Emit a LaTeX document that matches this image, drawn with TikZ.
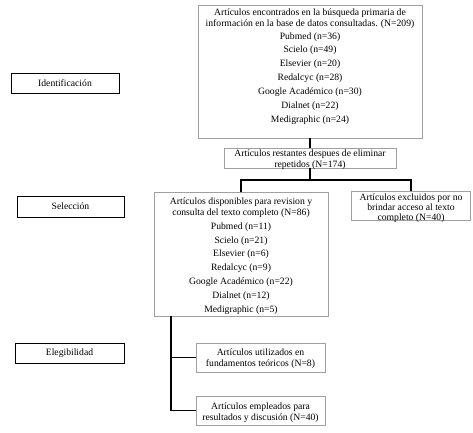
\documentclass[tikz,border=0pt]{standalone}
\usepackage{fontspec}
\setmainfont{Liberation Serif}
\definecolor{boxgray}{RGB}{160,160,160}
\begin{document}
\begin{tikzpicture}[x=1bp,y=-1bp,
  gbox/.style={draw=boxgray, line width=0.9bp, rectangle, inner sep=0pt},
  lbox/.style={draw=black, line width=0.9bp, rectangle, inner sep=0pt, font=\fontsize{9.7}{11.3}\selectfont},
  btext/.style={align=center, inner sep=0pt, anchor=north, font=\fontsize{9.7}{11.3}\selectfont},
  conn/.style={draw=black, line width=1.1bp}]
\useasboundingbox (0,0) rectangle (473,432);

% label boxes
\node[lbox, minimum width=108bp, minimum height=20bp] (ident) at (65,83) {Identificación};
\node[lbox, minimum width=107bp, minimum height=21bp] (sel) at (70.5,206.5) {Selección};
\node[lbox, minimum width=109bp, minimum height=20bp] (eleg) at (69.5,353) {Elegibilidad};

% main boxes
\node[gbox, minimum width=224bp, minimum height=133bp] (top) at (310,71.5) {};
\node[btext] (toptext) at (310,8.4) {Artículos encontrados en la búsqueda primaria de\\información en la base de datos consultadas. (N=209)\\[1.2bp]
Pubmed (n=36)\\[2.6bp] Scielo (n=49)\\[2.6bp] Elsevier (n=20)\\[2.6bp] Redalcyc (n=28)\\[2.6bp] Google Académico (n=30)\\[2.6bp] Dialnet (n=22)\\[2.6bp] Medigraphic (n=24)};

\node[gbox, minimum width=172bp, minimum height=20bp] (sec) at (310,158) {};
\node[btext] (sectext) at (310,149.7) {Artículos restantes despues de eliminar\\repetidos (N=174)};

\node[gbox, minimum width=174bp, minimum height=123.5bp] (disp) at (241,254.25) {};
\node[btext] (disptext) at (241,197.2) {Artículos disponibles para revision y\\consulta del texto completo (N=86)\\[2.6bp]
Pubmed (n=11)\\[2.6bp] Scielo (n=21)\\[2.6bp] Elsevier (n=6)\\[2.6bp] Redalcyc (n=9)\\[2.6bp] Google Académico (n=22)\\[2.6bp] Dialnet (n=12)\\[2.6bp] Medigraphic (n=5)};

\node[gbox, minimum width=119bp, minimum height=29bp] (excl) at (411,206) {};
\node[btext, font=\fontsize{9.7}{10}\selectfont] (excltext) at (411,193.4) {Artículos excluidos por no\\brindar acceso al texto\\completo (N=40)};

\node[gbox, minimum width=129bp, minimum height=29bp] (util) at (260.5,357.5) {};
\node[btext] (utiltext) at (260.5,348.7) {Artículos utilizados en\\fundamentos teóricos (N=8)};

\node[gbox, minimum width=129bp, minimum height=29bp] (empl) at (260.5,410.5) {};
\node[btext] (empltext) at (260.5,402.2) {Artículos empleados para\\resultados y discusión (N=40)};

% connectors
\coordinate (split) at (310,180);
\coordinate (elbow) at (171,410.5);
\draw[conn] (top.south) -- (sec.north);
\draw[conn] (sec.south) -- (split);
\draw[conn] (disp.north) |- (split) -| (excl.north);
\draw[conn] (disp.south -| elbow) -- (elbow) -- (empl.west);
\draw[conn] (util.west) -- (util.west -| elbow);
\end{tikzpicture}
\end{document}
